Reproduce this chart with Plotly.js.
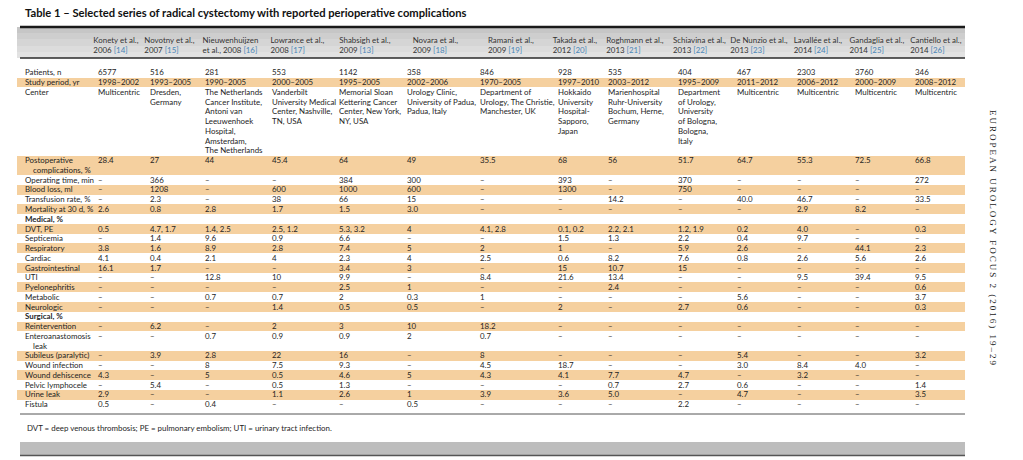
<!DOCTYPE html>
<html><head><meta charset="utf-8">
<script src="https://cdn.plot.ly/plotly-3.0.1.min.js"></script>
<style>
html,body{margin:0;padding:0;background:#fff;}
#chart{width:1023px;height:460px;}
g.annotation[data-index="0"] text{letter-spacing:2px;}
#chart g.table g{clip-path:none !important;}
</style></head><body><div id="chart"></div><script>
// ---- data ----
const authors = ["Konety et al.,","Novotny et al.,","Nieuwenhuijzen","Lowrance et al.,","Shabsigh et al.,","Novara et al.,","Ramani et al.,","Takada et al.,","Roghmann et al.,","Schiavina et al.,","De Nunzio et al.,","Lavallée et al.,","Gandaglia et al.,","Cantiello et al.,"];
const years = ["2006","2007","et al., 2008","2008","2009","2009","2009","2012","2013","2013","2013","2014","2014","2014"];
const refs = ["[14]","[15]","[16]","[17]","[13]","[18]","[19]","[20]","[21]","[22]","[23]","[24]","[25]","[26]"];
const D = "–";
const patients = ["6577","516","281","553","1142","358","846","928","535","404","467","2303","3760","346"];
const studyPeriod = ["1998–2002","1993–2005","1990–2005","2000–2005","1995–2005","2002–2006","1970–2005","1997–2010","2003–2012","1995–2009","2011–2012","2006–2012","2000–2009","2008–2012"];
const center = ["Multicentric","Dresden,|Germany","The Netherlands|Cancer Institute,|Antoni van|Leeuwenhoek|Hospital,|Amsterdam,|The Netherlands","Vanderbilt|University Medical|Center, Nashville,|TN, USA","Memorial Sloan|Kettering Cancer|Center, New York,|NY, USA","Urology Clinic,|University of Padua,|Padua, Italy","Department of|Urology, The Christie,|Manchester, UK","Hokkaido|University|Hospital-|Sapporo,|Japan","Marienhospital|Ruhr-University|Bochum, Herne,|Germany","Department|of Urology,|University|of Bologna,|Bologna,|Italy","Multicentric","Multicentric","Multicentric","Multicentric"];
const postopComplications = ["28.4","27","44","45.4","64","49","35.5","68","56","51.7","64.7","55.3","72.5","66.8"];
const operatingTime = [D,"366",D,D,"384","300",D,"393",D,"370",D,D,D,"272"];
const bloodLoss = [D,"1208",D,"600","1000","600",D,"1300",D,"750",D,D,D,D];
const transfusionRate = [D,"2.3",D,"38","66","15",D,D,"14.2",D,"40.0","46.7",D,"33.5"];
const mortality30d = ["2.6","0.8","2.8","1.7","1.5","3.0",D,D,D,D,D,"2.9","8.2",D];
const dvtPe = ["0.5","4.7, 1.7","1.4, 2.5","2.5, 1.2","5.3, 3.2","4","4.1, 2.8","0.1, 0.2","2.2, 2.1","1.2, 1.9","0.2","4.0",D,"0.3"];
const septicemia = [D,"1.4","9.6","0.9","6.6",D,D,"1.5","1.3","2.2","0.4","9.7",D,D];
const respiratory = ["3.8","1.6","8.9","2.8","7.4","5","2","1",D,"5.9","2.6",D,"44.1","2.3"];
const cardiac = ["4.1","0.4","2.1","4","2.3","4","2.5","0.6","8.2","7.6","0.8","2.6","5.6","2.6"];
const gastrointestinal = ["16.1","1.7",D,D,"3.4","3",D,"15","10.7","15",D,D,D,D];
const uti = [D,D,"12.8","10","9.9",D,"8.4","21.6","13.4",D,D,"9.5","39.4","9.5"];
const pyelonephritis = [D,D,D,D,"2.5","1",D,D,"2.4",D,D,D,D,"0.6"];
const metabolic = [D,D,"0.7","0.7","2","0.3","1",D,D,D,"5.6",D,D,"3.7"];
const neurologic = [D,D,D,"1.4","0.5","0.5",D,"2",D,"2.7","0.6",D,D,"0.3"];
const reintervention = [D,"6.2",D,"2","3","10","18.2",D,D,D,D,D,D,D];
const enteroLeak = [D,D,"0.7","0.9","0.9","2","0.7",D,D,D,D,D,D,D];
const subileus = [D,"3.9","2.8","22","16",D,"8",D,D,D,"5.4",D,D,"3.2"];
const woundInfection = [D,D,"8","7.5","9.3",D,"4.5","18.7",D,D,"3.0","8.4","4.0",D];
const woundDehiscence = ["4.3",D,"5","0.5","4.6","5","4.3","4.1","7.7","4.7",D,"3.2",D,D];
const pelvicLymphocele = [D,"5.4",D,"0.5","1.3",D,D,D,"0.7","2.7","0.6",D,D,"1.4"];
const urineLeak = ["2.9",D,D,"1.1","2.6","1","3.9","3.6","5.0",D,"4.7",D,D,"3.5"];
const fistula = ["0.5",D,"0.4",D,D,"0.5",D,D,D,"2.2",D,D,D,D];
const rowLabels = ["Patients, n","Study period, yr","Center","Postoperative|\u00a0\u00a0\u00a0\u00a0complications, %","Operating time, min","Blood loss, ml","Transfusion rate, %","Mortality at 30 d, %","Medical, %","DVT, PE","Septicemia","Respiratory","Cardiac","Gastrointestinal","UTI","Pyelonephritis","Metabolic","Neurologic","Surgical, %","Reintervention","Enteroanastomosis|\u00a0\u00a0\u00a0\u00a0leak","Subileus (paralytic)","Wound infection","Wound dehiscence","Pelvic lymphocele","Urine leak","Fistula"];
const sectionRows = ["Medical, %","Surgical, %"];
const empty = authors.map(()=>"");
const rowValues = [patients,studyPeriod,center,postopComplications,operatingTime,bloodLoss,transfusionRate,mortality30d,empty,dvtPe,septicemia,respiratory,cardiac,gastrointestinal,uti,pyelonephritis,metabolic,neurologic,empty,reintervention,enteroLeak,subileus,woundInfection,woundDehiscence,pelvicLymphocele,urineLeak,fistula];

// ---- styling ----
const W=1023,H=460;
const px=x=>x/W, py=y=>1-y/H;
const SHADE="#f5d09f", WHITE="#ffffff", CLEAR="rgba(0,0,0,0)", TXT="#1e1e1e", REFC="#4a86b8";
const HEAD_GRADIENT=["#c6c6c6","#cecece","#d5d5d5","#dcdcdc","#e2e2e2"];
const FONT="Lato, sans-serif", FS=7.9;
const colWidths=[73,52,55,67,67,68,73,78,50,70,59,60,58,60,58];
const X0=17, X1=965;
const rowH=9.76, tableTop=27, headH=31;

// one table line per text line, so every line keeps the same pitch
const nCols=authors.length+1;
const textCols=[...Array(nCols)].map(()=>[]);
const fillCols=[...Array(nCols)].map(()=>[""]);   // first fill line = gap under header
const fills=[WHITE], weights=[];
rowLabels.forEach((lab,r)=>{
  const split=[lab].concat(rowValues[r]).map(c=>c.split("|"));
  const n=Math.max(...split.map(s=>s.length));
  const fill = r%2===1?SHADE:WHITE;
  const weight = sectionRows.includes(lab)?"bold":"normal";
  for(let k=0;k<n;k++){
    split.forEach((s,i)=>{textCols[i].push((s[k]||"").replace(/ /g,"\u00a0"));fillCols[i].push("");});
    fills.push(fill);weights.push(weight);
  }
});
const header=[""].concat(authors.map((a,i)=>a+"<br>"+years[i]+" <span style='color:"+REFC+"'>"+refs[i]+"</span>"));
const nLines=fills.length;
const fillBottom=tableTop+headH+nLines*rowH+1;
const textTop=tableTop+headH+rowH-11.2+rowH/2-1;   // first text line centred in its band

// A: header band (stepped grey gradient) + row shading
const fillTable={
  type:"table",
  domain:{x:[px(X0),px(X1)],y:[py(fillBottom),py(tableTop)]},
  columnwidth:colWidths,
  header:{values:header.map(()=>HEAD_GRADIENT.map(()=>"")),height:headH/HEAD_GRADIENT.length,
    fill:{color:[HEAD_GRADIENT]},line:{width:0,color:[HEAD_GRADIENT]}},
  cells:{values:fillCols,height:rowH,fill:{color:[fills]},line:{width:0,color:[fills]}}
};
// B: column headings (transparent)
const headTable={
  type:"table",
  domain:{x:[px(X0),px(X1)],y:[py(tableTop+60),py(tableTop)]},
  columnwidth:colWidths,
  header:{values:header.map(h=>[h]),align:"center",height:headH,fill:{color:CLEAR},line:{width:0,color:CLEAR},
    font:{family:FONT,size:FS,color:"#333"}},
  cells:{values:header.map(()=>[""]),height:rowH,fill:{color:CLEAR},line:{width:0,color:CLEAR}}
};
// C: body text (transparent)
const bodyTable={
  type:"table",
  domain:{x:[px(X0),px(X1)],y:[py(textTop+1+nLines*rowH+20),py(textTop)]},
  columnwidth:colWidths,
  header:{values:header.map(()=>[""]),height:1,fill:{color:CLEAR},line:{width:0,color:CLEAR}},
  cells:{values:textCols,align:"left",height:rowH,fill:{color:CLEAR},line:{width:0,color:CLEAR},
    font:{family:FONT,size:FS,color:TXT,weight:[weights]}}
};

const layout={
  width:W,height:H,margin:{l:0,r:0,t:0,b:0},paper_bgcolor:"#fff",showlegend:false,
  title:{text:"<b>Table 1 – Selected series of radical cystectomy with reported perioperative complications</b>",
    x:px(25),xanchor:"left",xref:"paper",y:py(13),yanchor:"middle",yref:"paper",
    font:{family:FONT,size:11.2,color:"#111"}},
  shapes:[
    {type:"line",xref:"paper",yref:"paper",x0:px(20),x1:px(X1),y0:py(tableTop),y1:py(tableTop),line:{color:"#1a1a1a",width:2.5}},
    {type:"line",xref:"paper",yref:"paper",x0:px(20),x1:px(X1),y0:py(tableTop+headH),y1:py(tableTop+headH),line:{color:"#2a2a2a",width:1.5}},
    {type:"line",xref:"paper",yref:"paper",x0:px(20),x1:px(X1),y0:py(414),y1:py(414),line:{color:"#555",width:1}},
    {type:"rect",xref:"paper",yref:"paper",x0:px(20),x1:px(X1),y0:py(442),y1:py(456),fillcolor:"#bdbdbd",line:{width:0}},
    {type:"line",xref:"paper",yref:"paper",x0:px(20),x1:px(X1),y0:py(455.5),y1:py(455.5),line:{color:"#555",width:1.5}}
  ],
  annotations:[
    {text:"EUROPEAN UROLOGY FOCUS 2 (2016) 19–29",xref:"paper",yref:"paper",x:px(1000),y:py(238),
     textangle:90,showarrow:false,font:{family:"Liberation Serif, serif",size:9,color:"#222"}},
    {text:"DVT = deep venous thrombosis; PE = pulmonary embolism; UTI = urinary tract infection.",
     xref:"paper",yref:"paper",x:px(25),y:py(428),xanchor:"left",yanchor:"middle",showarrow:false,
     font:{family:FONT,size:FS,color:TXT}}
  ]
};
Plotly.newPlot("chart",[fillTable,headTable,bodyTable],layout,{displayModeBar:false,staticPlot:true});
</script></body></html>
